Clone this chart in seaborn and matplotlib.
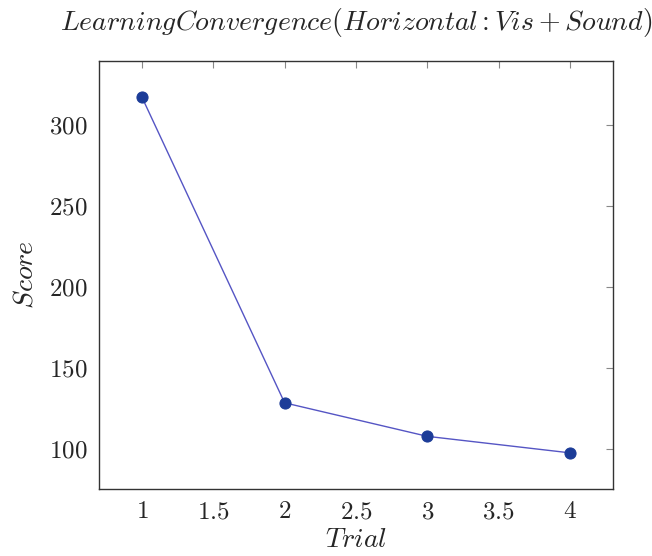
import matplotlib
matplotlib.use("Agg")
import matplotlib.pyplot as plt
from matplotlib.ticker import FuncFormatter, MultipleLocator
import seaborn as sns
import pandas as pd

trials = [1, 2, 3, 4]
scores = [317.3, 128.5, 107.8, 97.6]

sns.set_style("white")
plt.rcParams["mathtext.fontset"] = "cm"
plt.rcParams["font.family"] = ["DejaVu Serif"]

df = pd.DataFrame({"Trial": trials, "Score": scores})

fig = plt.figure(figsize=(6.52, 5.56), dpi=100)
ax = fig.add_axes([99 / 652, 1 - 489 / 556, 514 / 652, 428 / 556])

sns.lineplot(data=df, x="Trial", y="Score", ax=ax, color="#5555c4", linewidth=1.0,
             marker="o", markersize=8, markerfacecolor="#1c3c98",
             markeredgecolor="#1c3c98")

ax.set_xlim(0.7, 4.3)
ax.set_ylim(75.3, 339.5)
ax.xaxis.set_major_locator(MultipleLocator(0.5))
ax.set_yticks([100, 150, 200, 250, 300])
fmt = FuncFormatter(lambda v, p: "$%g$" % v)
ax.xaxis.set_major_formatter(fmt)
ax.yaxis.set_major_formatter(fmt)

ax.tick_params(direction="in", length=5, width=0.8, color="#888888",
               top=True, right=True, labelsize=18, pad=8)
for s in ax.spines.values():
    s.set_color("#333333")
    s.set_linewidth(1.0)

ax.set_xlabel("$Trial$", fontsize=20, labelpad=2)
ax.set_ylabel("$Score$", fontsize=20, labelpad=8)
ax.set_title("$LearningConvergence(Horizontal:Vis+Sound)$", fontsize=20, pad=22)

fig.savefig("out.png", dpi=100)
